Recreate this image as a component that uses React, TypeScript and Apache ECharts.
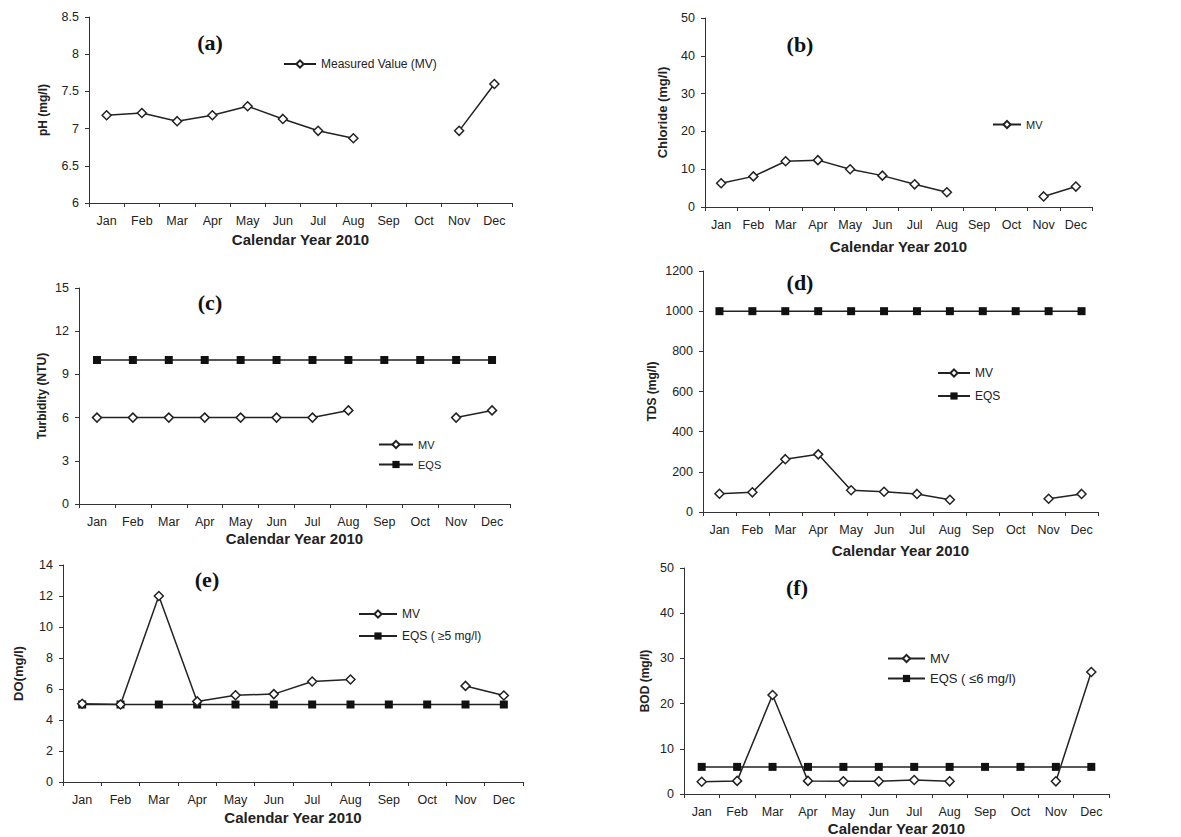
import React, { useEffect, useRef } from 'react';
import * as echarts from 'echarts';

const months = ['Jan', 'Feb', 'Mar', 'Apr', 'May', 'Jun', 'Jul', 'Aug', 'Sep', 'Oct', 'Nov', 'Dec'];

const phMV = [7.18, 7.21, 7.1, 7.18, 7.3, 7.13, 6.97, 6.87, null, null, 6.97, 7.6];
const chlorideMV = [6.3, 8.1, 12.1, 12.4, 10, 8.3, 6.0, 3.9, null, null, 2.8, 5.4];
const turbidityMV = [6, 6, 6, 6, 6, 6, 6, 6.5, null, null, 6, 6.5];
const turbidityEQS = [10, 10, 10, 10, 10, 10, 10, 10, 10, 10, 10, 10];
const tdsMV = [91, 98, 263, 287, 108, 101, 90, 61, null, null, 66, 90];
const tdsEQS = [1000, 1000, 1000, 1000, 1000, 1000, 1000, 1000, 1000, 1000, 1000, 1000];
const doMV = [5.05, 5.0, 12, 5.2, 5.6, 5.67, 6.48, 6.61, null, null, 6.2, 5.58];
const doEQS = [5, 5, 5, 5, 5, 5, 5, 5, 5, 5, 5, 5];
const bodMV = [2.7, 2.9, 21.9, 2.9, 2.8, 2.8, 3.1, 2.8, null, null, 2.8, 27];
const bodEQS = [6, 6, 6, 6, 6, 6, 6, 6, 6, 6, 6, 6];

const xTitle = 'Calendar Year 2010';

type S = { name: string; data: (number | null)[]; kind: 'mv' | 'eqs' };
const panels: any[] = [
  {
    grid: { left: 89, top: 17, width: 423, height: 186 }, min: 6, max: 8.5, interval: 0.5,
    yName: 'pH (mg/l)', yFs: 12, yGap: 40, xGap: 29, label: '(a)', lx: 210, ly: 42,
    legend: { left: 283, top: 58, gap: 9, w: 32, fs: 12 },
    series: [{ name: 'Measured Value (MV)', data: phMV, kind: 'mv' }] as S[],
  },
  {
    grid: { left: 705, top: 18, width: 387, height: 189 }, min: 0, max: 50, interval: 10,
    yName: 'Chloride (mg/l)', yFs: 13, yGap: 36, xGap: 32, label: '(b)', lx: 800, ly: 44,
    legend: { left: 992, top: 119, gap: 9, w: 28, fs: 11 },
    series: [{ name: 'MV', data: chlorideMV, kind: 'mv' }] as S[],
  },
  {
    grid: { left: 79, top: 288, width: 431, height: 216 }, min: 0, max: 15, interval: 3,
    yName: 'Turbidity (NTU)', yFs: 12, yGap: 31, xGap: 27, label: '(c)', lx: 210, ly: 302,
    legend: { left: 378, top: 439, gap: 9, w: 34, fs: 11 },
    series: [
      { name: 'EQS', data: turbidityEQS, kind: 'eqs' },
      { name: 'MV', data: turbidityMV, kind: 'mv' },
    ] as S[],
    legendOrder: ['MV', 'EQS'],
  },
  {
    grid: { left: 703, top: 271, width: 395, height: 241 }, min: 0, max: 1200, interval: 200,
    yName: 'TDS (mg/l)', yFs: 12, yGap: 45, xGap: 31, label: '(d)', lx: 800, ly: 282,
    legend: { left: 937, top: 367, gap: 11, w: 32, fs: 12 },
    series: [
      { name: 'EQS', data: tdsEQS, kind: 'eqs' },
      { name: 'MV', data: tdsMV, kind: 'mv' },
    ] as S[],
    legendOrder: ['MV', 'EQS'],
  },
  {
    grid: { left: 63, top: 565, width: 460, height: 217 }, min: 0, max: 14, interval: 2,
    yName: 'DO(mg/l)', yFs: 13, yGap: 38, xGap: 28, label: '(e)', lx: 207, ly: 579,
    legend: { left: 358, top: 608, gap: 10, w: 38, fs: 12 },
    series: [
      { name: 'EQS ( ≥5 mg/l)', data: doEQS, kind: 'eqs' },
      { name: 'MV ', data: doMV, kind: 'mv' },
    ] as S[],
    legendOrder: ['MV ', 'EQS ( ≥5 mg/l)'],
  },
  {
    grid: { left: 684, top: 568, width: 425, height: 226 }, min: 0, max: 50, interval: 10,
    yName: 'BOD (mg/l)', yFs: 12, yGap: 33, xGap: 27, label: '(f)', lx: 797, ly: 587,
    legend: { left: 887, top: 652, gap: 7, w: 37, fs: 13 },
    series: [
      { name: 'EQS ( ≤6 mg/l)', data: bodEQS, kind: 'eqs' },
      { name: 'MV  ', data: bodMV, kind: 'mv' },
    ] as S[],
    legendOrder: ['MV  ', 'EQS ( ≤6 mg/l)'],
  },
];

const ink = '#222';
const font = 'Liberation Sans, Arial, sans-serif';

function buildOption() {
  const grid: any[] = [];
  const xAxis: any[] = [];
  const yAxis: any[] = [];
  const series: any[] = [];
  const legend: any[] = [];
  const graphic: any[] = [];
  panels.forEach((p, i) => {
    grid.push({ ...p.grid, containLabel: false });
    xAxis.push({
      type: 'category', gridIndex: i, data: months, boundaryGap: true,
      name: xTitle, nameLocation: 'middle', nameGap: p.xGap,
      nameTextStyle: { fontFamily: font, fontWeight: 'bold', fontSize: 15, color: ink },
      axisLine: { lineStyle: { color: '#333', width: 1 } },
      axisTick: { show: true, inside: false, length: 4, lineStyle: { color: '#333' } },
      axisLabel: { fontFamily: font, fontSize: 12.5, color: ink, margin: 11, interval: 0 },
      splitLine: { show: false },
    });
    yAxis.push({
      type: 'value', gridIndex: i, min: p.min, max: p.max, interval: p.interval,
      name: p.yName, nameLocation: 'middle', nameGap: p.yGap, nameRotate: 90,
      nameTextStyle: { fontFamily: font, fontWeight: 'bold', fontSize: p.yFs, color: ink },
      axisLine: { show: true, lineStyle: { color: '#333', width: 1 } },
      axisTick: { show: true, inside: false, length: 4, lineStyle: { color: '#333' } },
      axisLabel: {
        fontFamily: font, fontSize: 12.5, color: ink, margin: 10,
        formatter: (v: number) => String(v),
      },
      splitLine: { show: false },
    });
    (p.series as S[]).forEach((s) => {
      const isMV = s.kind === 'mv';
      series.push({
        type: 'line', name: s.name, xAxisIndex: i, yAxisIndex: i, data: s.data,
        connectNulls: false,
        symbol: isMV ? 'diamond' : 'rect',
        symbolSize: isMV ? 9 : 8,
        showAllSymbol: true,
        lineStyle: { color: ink, width: 1.5 },
        itemStyle: isMV
          ? { color: '#fff', borderColor: ink, borderWidth: 1.5 }
          : { color: '#111', borderColor: '#111', borderWidth: 0 },
        z: isMV ? 3 : 2,
        emphasis: { disabled: true },
      });
    });
    legend.push({
      orient: 'vertical', left: p.legend.left, top: p.legend.top, padding: 0,
      itemGap: p.legend.gap, itemWidth: p.legend.w, itemHeight: 9,
      data: p.legendOrder || p.series.map((s: S) => s.name),
      textStyle: { fontFamily: font, fontSize: p.legend.fs, color: ink },
      selectedMode: false,
    });
    graphic.push({
      type: 'text', x: p.lx, y: p.ly,
      style: {
        text: p.label, fontFamily: 'Liberation Serif, Times New Roman, serif', fontWeight: 'bold',
        fontSize: 22, fill: '#111', textAlign: 'center', textVerticalAlign: 'middle',
      },
    });
  });
  return {
    animation: false,
    backgroundColor: '#fff',
    grid, xAxis, yAxis, series, legend, graphic,
  };
}

export default function App() {
  const ref = useRef<HTMLDivElement>(null);
  useEffect(() => {
    const chart = echarts.init(ref.current!, null, { renderer: 'svg' });
    chart.setOption(buildOption());
    return () => chart.dispose();
  }, []);
  return (
    <div
      ref={ref}
      style={{ position: 'fixed', left: 0, top: 0, width: 1181, height: 837, background: '#fff' }}
    />
  );
}
